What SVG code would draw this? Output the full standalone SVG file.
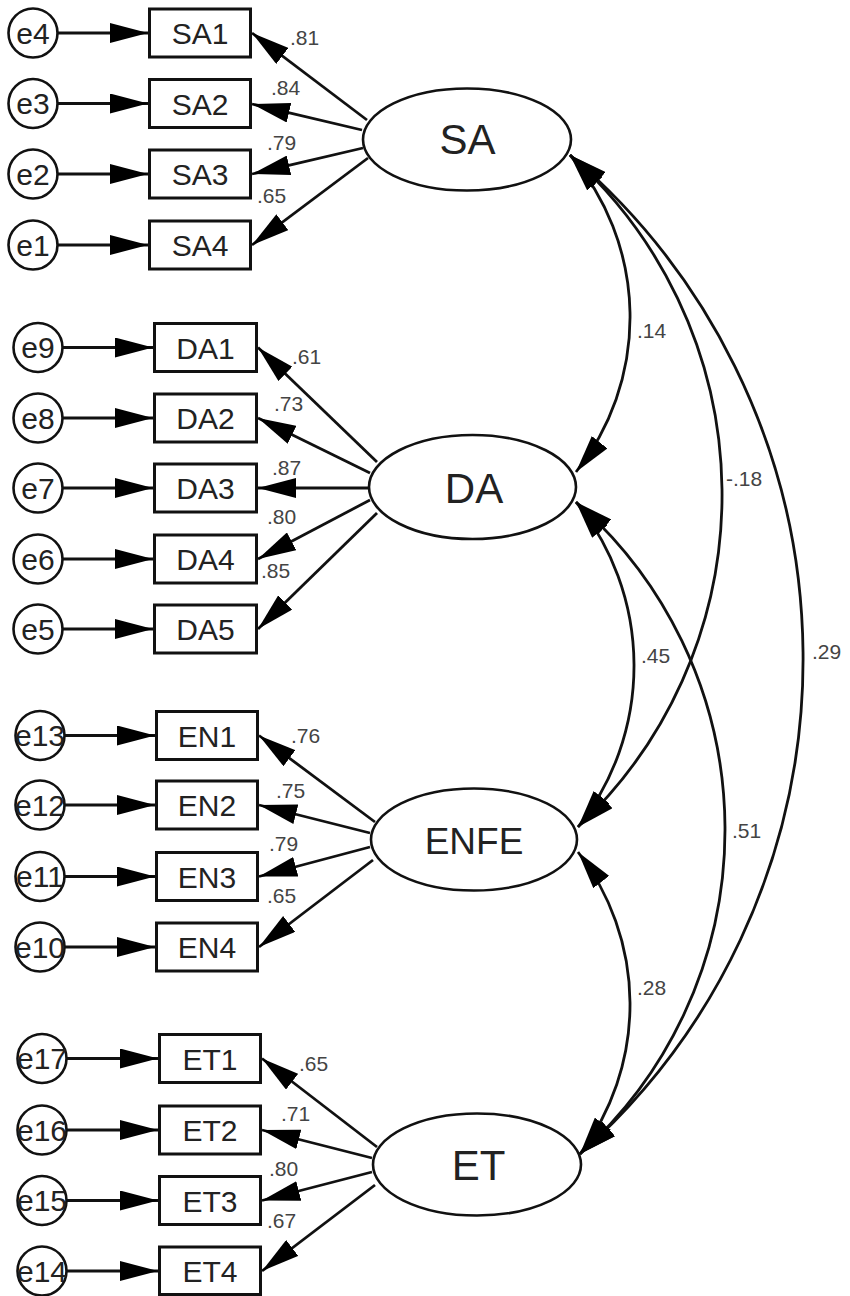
<svg xmlns="http://www.w3.org/2000/svg" width="850" height="1296" viewBox="0 0 850 1296">
  <style>
    .box { fill: #fff; stroke: #111; stroke-width: 3; }
    .err { fill: #fff; stroke: #111; stroke-width: 2.6; }
    .lat { fill: #fff; stroke: #111; stroke-width: 2.6; }
    .path { fill: none; stroke: #111; stroke-width: 2.8; marker-end: url(#ah); }
    .cov { fill: none; stroke: #111; stroke-width: 2.8; marker-start: url(#ah); marker-end: url(#ah); }
    text { font-family: "Liberation Sans", Arial, sans-serif; }
    .lbl { font-size: 30px; text-anchor: middle; fill: #222; }
    .elbl { font-size: 30px; text-anchor: middle; fill: #222; }
    .llbl { font-size: 42px; text-anchor: middle; fill: #222; }
    .coef { font-size: 21px; fill: #444; }
  </style>
  <defs>
    <marker id="ah" viewBox="0 0 38 20" refX="38" refY="10" markerWidth="38" markerHeight="20" orient="auto-start-reverse" markerUnits="userSpaceOnUse">
      <path d="M0,0 L38,10 L0,20 z" fill="#000"/>
    </marker>
  </defs>

  <rect width="850" height="1296" fill="#fff"/>

  <g id="connectors">
    <!-- error terms to indicators -->
    <line class="path" x1="57.5" y1="33" x2="148" y2="33"/>
    <line class="path" x1="57.5" y1="103.5" x2="148" y2="103.5"/>
    <line class="path" x1="57.5" y1="174" x2="148" y2="174"/>
    <line class="path" x1="57.5" y1="245" x2="148" y2="245"/>
    <line class="path" x1="62.5" y1="347.5" x2="153" y2="347.5"/>
    <line class="path" x1="62.5" y1="418" x2="153" y2="418"/>
    <line class="path" x1="62.5" y1="488" x2="153" y2="488"/>
    <line class="path" x1="62.5" y1="559" x2="153" y2="559"/>
    <line class="path" x1="62.5" y1="629" x2="153" y2="629"/>
    <line class="path" x1="64.5" y1="735.5" x2="155" y2="735.5"/>
    <line class="path" x1="64.5" y1="805" x2="155" y2="805"/>
    <line class="path" x1="64.5" y1="876.5" x2="155" y2="876.5"/>
    <line class="path" x1="64.5" y1="947" x2="155" y2="947"/>
    <line class="path" x1="66.5" y1="1058.5" x2="158" y2="1058.5"/>
    <line class="path" x1="66.5" y1="1130" x2="158" y2="1130"/>
    <line class="path" x1="66.5" y1="1200.5" x2="158" y2="1200.5"/>
    <line class="path" x1="66.5" y1="1271" x2="158" y2="1271"/>

    <!-- factor loadings -->
    <line class="path" x1="367" y1="120" x2="252" y2="33"/>
    <line class="path" x1="362" y1="130" x2="252" y2="104"/>
    <line class="path" x1="363" y1="148" x2="252" y2="174"/>
    <line class="path" x1="368" y1="158" x2="252" y2="245"/>
    <line class="path" x1="377" y1="462" x2="258" y2="347.5"/>
    <line class="path" x1="370" y1="473" x2="258" y2="418"/>
    <line class="path" x1="368" y1="488" x2="258" y2="488"/>
    <line class="path" x1="370" y1="500" x2="258" y2="559"/>
    <line class="path" x1="377" y1="513" x2="258" y2="629"/>
    <line class="path" x1="375" y1="822" x2="259" y2="735.5"/>
    <line class="path" x1="370" y1="833" x2="259" y2="805"/>
    <line class="path" x1="370" y1="847" x2="259" y2="876.5"/>
    <line class="path" x1="373" y1="860" x2="259" y2="947"/>
    <line class="path" x1="377" y1="1147" x2="262" y2="1058.5"/>
    <line class="path" x1="372" y1="1158" x2="262" y2="1130"/>
    <line class="path" x1="372" y1="1172" x2="262" y2="1200.5"/>
    <line class="path" x1="375" y1="1185" x2="262" y2="1271"/>

    <!-- loading values -->
    <text class="coef" x="290" y="45">.81</text>
    <text class="coef" x="271" y="95">.84</text>
    <text class="coef" x="267" y="150">.79</text>
    <text class="coef" x="257" y="203">.65</text>
    <text class="coef" x="292" y="364">.61</text>
    <text class="coef" x="274" y="411">.73</text>
    <text class="coef" x="272" y="475">.87</text>
    <text class="coef" x="267" y="524">.80</text>
    <text class="coef" x="261" y="578">.85</text>
    <text class="coef" x="291" y="743">.76</text>
    <text class="coef" x="276" y="798">.75</text>
    <text class="coef" x="269" y="851">.79</text>
    <text class="coef" x="267" y="903">.65</text>
    <text class="coef" x="299" y="1071">.65</text>
    <text class="coef" x="281" y="1121">.71</text>
    <text class="coef" x="269" y="1176">.80</text>
    <text class="coef" x="267" y="1228">.67</text>

    <!-- correlations between factors -->
    <path class="cov" d="M570,155 A248.9,248.9 0 0 1 576,472"/>
    <path class="cov" d="M570,155 A455.4,455.4 0 0 1 578,827"/>
    <path class="cov" d="M570,155 A661.1,661.1 0 0 1 580,1154"/>
    <path class="cov" d="M576,502 A260.1,260.1 0 0 1 578,827"/>
    <path class="cov" d="M576,502 A435,435 0 0 1 580,1154"/>
    <path class="cov" d="M578,852 A249,249 0 0 1 580,1154"/>

    <text class="coef" x="637" y="338">.14</text>
    <text class="coef" x="726" y="486">-.18</text>
    <text class="coef" x="641" y="663">.45</text>
    <text class="coef" x="812" y="659">.29</text>
    <text class="coef" x="732" y="838">.51</text>
    <text class="coef" x="637" y="995">.28</text>
  </g>

  <!-- error terms -->
  <g id="e4"><circle class="err" cx="33" cy="33" r="24.5"/><text class="elbl" x="33" y="43.5">e4</text></g>
  <g id="e3"><circle class="err" cx="33" cy="103.5" r="24.5"/><text class="elbl" x="33" y="114">e3</text></g>
  <g id="e2"><circle class="err" cx="33" cy="174" r="24.5"/><text class="elbl" x="33" y="184.5">e2</text></g>
  <g id="e1"><circle class="err" cx="33" cy="245" r="24.5"/><text class="elbl" x="33" y="255.5">e1</text></g>
  <g id="e9"><circle class="err" cx="38" cy="347.5" r="24.5"/><text class="elbl" x="38" y="358">e9</text></g>
  <g id="e8"><circle class="err" cx="38" cy="418" r="24.5"/><text class="elbl" x="38" y="428.5">e8</text></g>
  <g id="e7"><circle class="err" cx="38" cy="488" r="24.5"/><text class="elbl" x="38" y="498.5">e7</text></g>
  <g id="e6"><circle class="err" cx="38" cy="559" r="24.5"/><text class="elbl" x="38" y="569.5">e6</text></g>
  <g id="e5"><circle class="err" cx="38" cy="629" r="24.5"/><text class="elbl" x="38" y="639.5">e5</text></g>
  <g id="e13"><circle class="err" cx="40" cy="735.5" r="24.5"/><text class="elbl" x="40" y="746">e13</text></g>
  <g id="e12"><circle class="err" cx="40" cy="805" r="24.5"/><text class="elbl" x="40" y="815.5">e12</text></g>
  <g id="e11"><circle class="err" cx="40" cy="876.5" r="24.5"/><text class="elbl" x="40" y="887">e11</text></g>
  <g id="e10"><circle class="err" cx="40" cy="947" r="24.5"/><text class="elbl" x="40" y="957.5">e10</text></g>
  <g id="e17"><circle class="err" cx="42" cy="1058.5" r="24.5"/><text class="elbl" x="42" y="1069">e17</text></g>
  <g id="e16"><circle class="err" cx="42" cy="1130" r="24.5"/><text class="elbl" x="42" y="1140.5">e16</text></g>
  <g id="e15"><circle class="err" cx="42" cy="1200.5" r="24.5"/><text class="elbl" x="42" y="1211">e15</text></g>
  <g id="e14"><circle class="err" cx="42" cy="1271" r="24.5"/><text class="elbl" x="42" y="1281.5">e14</text></g>

  <!-- observed indicators -->
  <g id="SA1"><rect class="box" x="149.5" y="9" width="101" height="48"/><text class="lbl" x="200" y="44">SA1</text></g>
  <g id="SA2"><rect class="box" x="149.5" y="79.5" width="101" height="48"/><text class="lbl" x="200" y="114.5">SA2</text></g>
  <g id="SA3"><rect class="box" x="149.5" y="150" width="101" height="48"/><text class="lbl" x="200" y="185">SA3</text></g>
  <g id="SA4"><rect class="box" x="149.5" y="221" width="101" height="48"/><text class="lbl" x="200" y="256">SA4</text></g>

  <g id="DA1"><rect class="box" x="154.5" y="323.5" width="102" height="48"/><text class="lbl" x="205.5" y="358.5">DA1</text></g>
  <g id="DA2"><rect class="box" x="154.5" y="394" width="102" height="48"/><text class="lbl" x="205.5" y="429">DA2</text></g>
  <g id="DA3"><rect class="box" x="154.5" y="464" width="102" height="48"/><text class="lbl" x="205.5" y="499">DA3</text></g>
  <g id="DA4"><rect class="box" x="154.5" y="535" width="102" height="48"/><text class="lbl" x="205.5" y="570">DA4</text></g>
  <g id="DA5"><rect class="box" x="154.5" y="605" width="102" height="48"/><text class="lbl" x="205.5" y="640">DA5</text></g>

  <g id="EN1"><rect class="box" x="156.5" y="711.5" width="101" height="48"/><text class="lbl" x="207" y="746.5">EN1</text></g>
  <g id="EN2"><rect class="box" x="156.5" y="781" width="101" height="48"/><text class="lbl" x="207" y="816">EN2</text></g>
  <g id="EN3"><rect class="box" x="156.5" y="852.5" width="101" height="48"/><text class="lbl" x="207" y="887.5">EN3</text></g>
  <g id="EN4"><rect class="box" x="156.5" y="923" width="101" height="48"/><text class="lbl" x="207" y="958">EN4</text></g>

  <g id="ET1"><rect class="box" x="159.5" y="1034.5" width="101" height="48"/><text class="lbl" x="210" y="1069.5">ET1</text></g>
  <g id="ET2"><rect class="box" x="159.5" y="1106" width="101" height="48"/><text class="lbl" x="210" y="1141">ET2</text></g>
  <g id="ET3"><rect class="box" x="159.5" y="1176.5" width="101" height="48"/><text class="lbl" x="210" y="1211.5">ET3</text></g>
  <g id="ET4"><rect class="box" x="159.5" y="1247" width="101" height="47.5"/><text class="lbl" x="210" y="1282">ET4</text></g>

  <!-- latent factors -->
  <g id="SA"><ellipse class="lat" cx="467" cy="139.5" rx="104" ry="51"/><text class="llbl" x="467.5" y="154">SA</text></g>
  <g id="DA"><ellipse class="lat" cx="472.5" cy="487" rx="103.5" ry="52"/><text class="llbl" x="474" y="503">DA</text></g>
  <g id="ENFE"><ellipse class="lat" cx="474" cy="839.5" rx="103" ry="51"/><text class="llbl" x="474" y="854" style="font-size:37px">ENFE</text></g>
  <g id="ET"><ellipse class="lat" cx="477" cy="1164.5" rx="104" ry="51"/><text class="llbl" x="478.5" y="1180">ET</text></g>
</svg>
